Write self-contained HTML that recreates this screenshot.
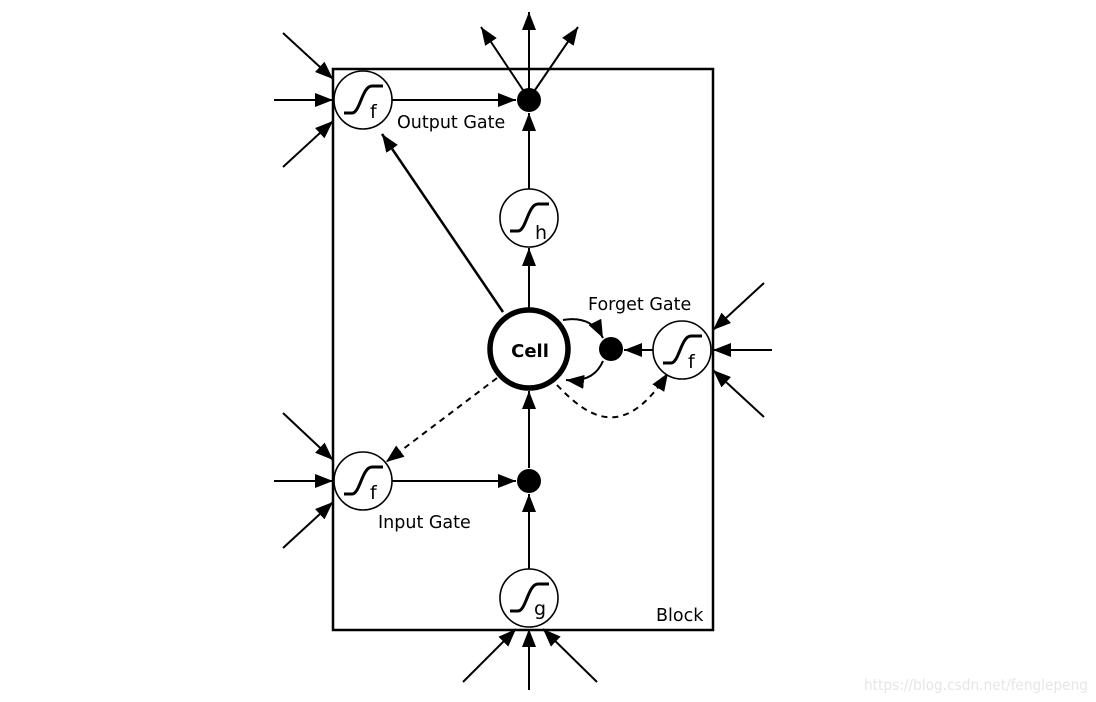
<!DOCTYPE html>
<html><head><meta charset="utf-8"><style>
html,body{margin:0;padding:0;background:#fff;}
svg{display:block;}
text{font-family:"DejaVu Sans","Liberation Sans",sans-serif;}
</style></head><body>
<svg width="1096" height="702" viewBox="0 0 1096 702" xmlns="http://www.w3.org/2000/svg">
<defs>
<marker id="b" viewBox="0 0 18 14" refX="18" refY="7" markerWidth="18" markerHeight="14" markerUnits="userSpaceOnUse" orient="auto">
<path d="M0 0 L18 7 L0 14 Z" fill="#000"/></marker>
<g id="sig"><circle r="29" fill="#fff" stroke="#000" stroke-width="1.6"/>
<path d="M-19 13 L-11 13 C-3 13,-1 -14,9 -14 L20 -14" fill="none" stroke="#000" stroke-width="3"/></g>
</defs>
<rect x="333" y="69" width="380" height="561" fill="none" stroke="#000" stroke-width="2.5"/>
<g stroke="#000" stroke-width="2" fill="none" marker-end="url(#b)">
<line x1="283" y1="33" x2="333" y2="79"/>
<line x1="274" y1="100" x2="333" y2="100"/>
<line x1="283" y1="167" x2="333" y2="121"/>
<line x1="283" y1="413" x2="333" y2="460"/>
<line x1="274" y1="481" x2="333" y2="481"/>
<line x1="283" y1="548" x2="333" y2="502"/>
<line x1="764" y1="283" x2="713" y2="330"/>
<line x1="772" y1="350" x2="713" y2="350"/>
<line x1="764" y1="417" x2="713" y2="370"/>
<line x1="463" y1="682" x2="516" y2="629"/>
<line x1="529" y1="690" x2="529" y2="629"/>
<line x1="597" y1="682" x2="543" y2="629"/>
<line x1="529" y1="100" x2="529" y2="12"/>
<line x1="523" y1="90" x2="481" y2="27"/>
<line x1="535" y1="90" x2="578" y2="27"/>
<line x1="392" y1="100" x2="516" y2="100"/>
<line x1="529" y1="189" x2="529" y2="113"/>
<line x1="529" y1="309" x2="529" y2="248"/>
<line x1="503" y1="312" x2="382" y2="134" stroke-width="2.5"/>
<line x1="392" y1="481" x2="516" y2="481"/>
<line x1="529" y1="569" x2="529" y2="494"/>
<line x1="529" y1="468" x2="529" y2="391"/>
<line x1="653" y1="350" x2="624" y2="350"/>
<path d="M563 320 C585 316,597 326,603 338"/>
<path d="M603 361 C597 375,585 382,566 380"/>
<line x1="497" y1="378" x2="386" y2="462" stroke-dasharray="6,5"/>
<path d="M557 385 C590 420,625 440,668 373" stroke-dasharray="6,5"/>
</g>
<circle cx="529" cy="100" r="12"/>
<circle cx="529" cy="481" r="12"/>
<circle cx="611" cy="349" r="12"/>
<circle cx="529" cy="349" r="39" fill="#fff" stroke="#000" stroke-width="5.5"/>
<text x="530" y="357" font-size="18" font-weight="bold" text-anchor="middle">Cell</text>
<use href="#sig" x="363" y="100"/><text x="370" y="118" font-size="19">f</text>
<use href="#sig" x="363" y="481"/><text x="370" y="499" font-size="19">f</text>
<use href="#sig" x="682" y="350"/><text x="688" y="368" font-size="19">f</text>
<use href="#sig" x="529" y="218"/><text x="535" y="239" font-size="19">h</text>
<use href="#sig" x="529" y="598"/><text x="534" y="615" font-size="19">g</text>
<text x="397" y="128" font-size="17.5">Output Gate</text>
<text x="588" y="310" font-size="17.5">Forget Gate</text>
<text x="378" y="528" font-size="17.5">Input Gate</text>
<text x="656" y="621" font-size="17.5">Block</text>
<text x="864" y="690" font-size="15" fill="#e6e6e6" font-family="Liberation Sans,sans-serif" textLength="224" lengthAdjust="spacingAndGlyphs">https://blog.csdn.net/fenglepeng</text>
</svg>
</body></html>
